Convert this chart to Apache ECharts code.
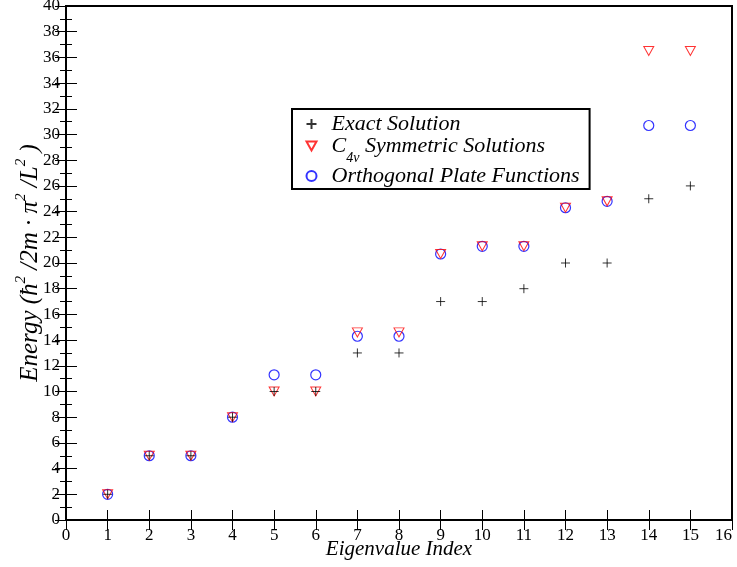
<!DOCTYPE html>
<html><head><meta charset="utf-8">
<script src="https://cdn.jsdelivr.net/npm/echarts@6/dist/echarts.min.js"></script>
<style>html,body{margin:0;padding:0;background:#fff}#c{width:737px;height:567px}</style>
</head><body><div id="c"></div>
<script>
var indices = [1,2,3,4,5,6,7,8,9,10,11,12,13,14,15];
var exactSolution = [2,5,5,8,10,10,13,13,17,17,18,20,20,25,26];
var c4vSolutions = [2,5,5,8,10,10,14.6,14.6,20.7,21.3,21.3,24.3,24.8,36.5,36.5];
var platesFunctions = [2,5,5,8,11.3,11.3,14.3,14.3,20.7,21.3,21.3,24.3,24.8,30.7,30.7];
var seriesNames = ['Exact Solution','C4v Symmetric Solutions','Orthogonal Plate Functions'];

function pairs(v){ return indices.map(function(x,i){ return [x, v[i]]; }); }
var serif = 'Liberation Serif, Times New Roman, serif';
var plus = 'path://M0,5L10,5M5,0L5,10';
var triDown = 'path://M0,0L10,0L5,9Z';
var chart = echarts.init(document.getElementById('c'));
var tickCommon = {inside:true, length:11, lineStyle:{color:'#000', width:1}};
chart.setOption({
  animation:false,
  backgroundColor:'#fff',
  grid:{left:66, right:5, top:6, bottom:47, outerBoundsMode:'none', containLabel:false, show:true, borderColor:'#000', borderWidth:2, backgroundColor:'transparent'},
  legend:{
    orient:'vertical', left:292, top:109,
    backgroundColor:'#fff', borderColor:'#000', borderWidth:2,
    padding:[4,10,2,12], itemGap:0, itemWidth:10, itemHeight:10,
    data:seriesNames,
    formatter:function(n){ return n==='C4v Symmetric Solutions' ? '{i|C}{sub|4v}{i| Symmetric Solutions}' : '{i|'+n+'}'; },
    textStyle:{fontFamily:serif, fontStyle:'italic', fontSize:22, color:'#000', padding:[0,0,0,10],
      rich:{i:{fontFamily:serif, fontStyle:'italic', fontSize:22, color:'#000', lineHeight:26},
            sub:{fontFamily:serif, fontStyle:'italic', fontSize:14, color:'#000', verticalAlign:'bottom', lineHeight:26, padding:[0,0,-6,0]}}}
  },
  xAxis:[{
    type:'value', min:0, max:16, interval:1, position:'bottom',
    axisLine:{show:true, lineStyle:{color:'#000', width:2}},
    axisTick:{inside:true, length:10, lineStyle:{color:'#000', width:1}},
    splitLine:{show:false},
    axisLabel:{fontFamily:serif, fontSize:17, color:'#000', margin:7, alignMaxLabel:'right'},
    name:'Eigenvalue Index', nameLocation:'middle', nameGap:19, nameMoveOverlap:false,
    nameTextStyle:{fontFamily:serif, fontStyle:'italic', fontSize:21, color:'#000'}
  },{
    type:'value', min:0, max:16, interval:1, position:'top',
    axisLine:{show:true, lineStyle:{color:'#000', width:2}},
    axisTick:{inside:true, length:10, lineStyle:{color:'#000', width:1}}, axisLabel:{show:false}, splitLine:{show:false}
  }],
  yAxis:[{
    type:'value', min:0, max:40, interval:2, position:'left',
    axisLine:{show:true, lineStyle:{color:'#000', width:2}},
    axisTick:tickCommon,
    minorTick:{show:true, splitNumber:2, length:6, lineStyle:{color:'#000', width:1}},
    splitLine:{show:false}, minorSplitLine:{show:false},
    axisLabel:{fontFamily:serif, fontSize:17, color:'#000', margin:6},
    name:'{i|Energy (ħ}{sup|2}{i| /2m · π}{sup|2}{i| /L}{sup|2}{i| )}',
    nameLocation:'middle', nameGap:20, nameRotate:90, nameMoveOverlap:false,
    nameTextStyle:{fontFamily:serif, fontSize:25, color:'#000',
      rich:{i:{fontFamily:serif, fontStyle:'italic', fontSize:25, color:'#000', lineHeight:32},
            sup:{fontFamily:serif, fontStyle:'italic', fontSize:15, color:'#000', verticalAlign:'top', lineHeight:32, padding:[0,0,13,0]}}}
  },{
    type:'value', min:0, max:40, interval:2, position:'right',
    axisLine:{show:true, lineStyle:{color:'#000', width:2}},
    axisTick:tickCommon,
    minorTick:{show:true, splitNumber:2, length:6, lineStyle:{color:'#000', width:1}},
    axisLabel:{show:false}, splitLine:{show:false}, minorSplitLine:{show:false}
  }],
  series:[
    {name:seriesNames[0], type:'scatter', data:pairs(exactSolution), symbol:plus, symbolSize:9, z:4,
     itemStyle:{color:'none', borderColor:'#000', borderWidth:1}},
    {name:seriesNames[1], type:'scatter', data:pairs(c4vSolutions), symbol:triDown, symbolSize:[10,9], z:3,
     itemStyle:{color:'none', borderColor:'#ff0000', borderWidth:1}},
    {name:seriesNames[2], type:'scatter', data:pairs(platesFunctions), symbol:'circle', symbolSize:10, z:2,
     itemStyle:{color:'none', borderColor:'#0000ff', borderWidth:1.2}}
  ]
});
</script></body></html>
